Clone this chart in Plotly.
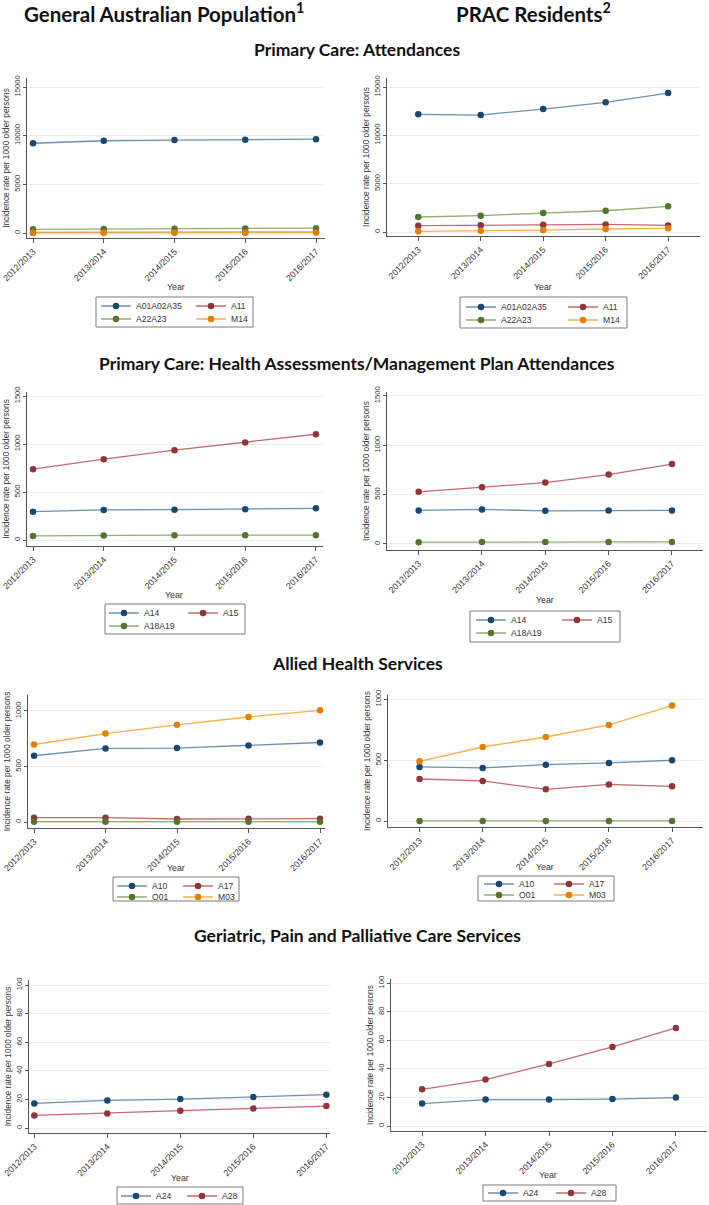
import plotly.graph_objects as go

# ---------------- data ----------------
years = ["2012/2013", "2013/2014", "2014/2015", "2015/2016", "2016/2017"]

# Primary Care: Attendances
gen_A01A02A35 = [9220, 9480, 9550, 9590, 9640]
gen_A11 = [60, 65, 70, 75, 80]
gen_A22A23 = [380, 400, 430, 460, 500]
gen_M14 = [20, 25, 30, 35, 40]
prac_A01A02A35 = [12170, 12100, 12720, 13410, 14370]
prac_A11 = [650, 700, 750, 780, 680]
prac_A22A23 = [1550, 1690, 1960, 2200, 2660]
prac_M14 = [70, 120, 200, 310, 380]

# Primary Care: Health Assessments / Management Plan Attendances
gen_A14 = [295, 313, 316, 320, 330]
gen_A15 = [738, 842, 936, 1016, 1102]
gen_A18A19 = [42, 48, 50, 50, 50]
prac_A14 = [340, 350, 336, 340, 340]
prac_A15 = [528, 575, 622, 703, 810]
prac_A18A19 = [18, 19, 20, 20, 21]

# Allied Health Services
gen_A10 = [597, 663, 666, 690, 716]
gen_A17 = [39, 39, 27, 30, 30]
gen_O01 = [3, 3, 3, 3, 3]
gen_M03 = [698, 797, 875, 946, 1006]
prac_A10 = [444, 436, 463, 477, 499]
prac_A17 = [345, 329, 260, 301, 285]
prac_O01 = [1, 1, 1, 1, 1]
prac_M03 = [490, 608, 690, 789, 948]

# Geriatric, Pain and Palliative Care Services
gen_A24 = [17.2, 19.3, 20.2, 21.6, 23.3]
gen_A28 = [8.8, 10.2, 12.1, 13.7, 15.3]
prac_A24 = [15.7, 18.5, 18.5, 18.9, 19.9]
prac_A28 = [25.7, 32.5, 43.5, 55.4, 68.7]

header_left = "General Australian Population<sup>1</sup>"
header_right = "PRAC Residents<sup>2</sup>"
section_titles = ["Primary Care: Attendances",
                  "Primary Care: Health Assessments/Management Plan Attendances",
                  "Allied Health Services",
                  "Geriatric, Pain and Palliative Care Services"]
y_title = "Incidence rate per 1000 older persons"
x_title = "Year"

# ---------------- styling ----------------
W, H = 709, 1205
MARKER = {"navy": "#1a476f", "maroon": "#90353b", "green": "#55752f", "orange": "#e37e00"}
LINE = {"navy": "#6f8fb0", "maroon": "#c46a70", "green": "#93ad70", "orange": "#f5b04a"}
AX = "#555555"
GRID = "#e6eff1"
SANS = "Liberation Sans, Arial, sans-serif"
TITLE_FONT = "Lato, Open Sans, sans-serif"


def fx(p):
    return p / W


def fy(p):
    return 1 - p / H


# panel geometry (pixels) and series assignment
panels = [
    dict(box=(27, 325, 78, 238), xr=[-0.085, 4.127], yr=[-514, 15925], yt=[0, 5000, 10000, 15000],
         rows=[[("A01A02A35", gen_A01A02A35, "navy"), ("A11", gen_A11, "maroon")],
               [("A22A23", gen_A22A23, "green"), ("M14", gen_M14, "orange")]],
         leg_left=96, ew=50, leg_rows=[306, 319], leg_box=(96, 253, 297, 327), year=(176, 287)),
    dict(box=(387, 700, 78, 236), xr=[-0.5, 4.51], yr=[-414, 15931], yt=[0, 5000, 10000, 15000],
         rows=[[("A01A02A35", prac_A01A02A35, "navy"), ("A11", prac_A11, "maroon")],
               [("A22A23", prac_A22A23, "green"), ("M14", prac_M14, "orange")]],
         leg_left=461, ew=57, leg_rows=[307, 320], leg_box=(460, 627, 297, 328), year=(543, 287)),
    dict(box=(27, 323, 392, 546), xr=[-0.085, 4.1], yr=[-62.5, 1542], yt=[0, 500, 1000, 1500],
         rows=[[("A14", gen_A14, "navy"), ("A15", gen_A15, "maroon")],
               [("A18A19", gen_A18A19, "green")]],
         leg_left=104, ew=34, leg_rows=[613, 626], leg_box=(105, 245, 604, 634), year=(174, 595)),
    dict(box=(387, 703, 392, 550), xr=[-0.5, 4.49], yr=[-61, 1540], yt=[0, 500, 1000, 1500],
         rows=[[("A14", prac_A14, "navy"), ("A15", prac_A15, "maroon")],
               [("A18A19", prac_A18A19, "green")]],
         leg_left=471, ew=41, leg_rows=[620, 633], leg_box=(470, 620, 611, 642), year=(545, 600)),
    dict(box=(28, 325, 695, 828), xr=[-0.084, 4.07], yr=[-54, 1144], yt=[0, 500, 1000],
         rows=[[("A10", gen_A10, "navy"), ("A17", gen_A17, "maroon")],
               [("O01", gen_O01, "green"), ("M03", gen_M03, "orange")]],
         leg_left=112, ew=21, leg_rows=[886, 897], leg_box=(113, 239, 877, 901), year=(176, 868)),
    dict(box=(388, 703, 695, 827), xr=[-0.5, 4.49], yr=[-49, 1035], yt=[0, 500, 1000],
         rows=[[("A10", prac_A10, "navy"), ("A17", prac_A17, "maroon")],
               [("O01", prac_O01, "green"), ("M03", prac_M03, "orange")]],
         leg_left=479, ew=25, leg_rows=[884, 895], leg_box=(478, 614, 876, 901), year=(545, 867)),
    dict(box=(29, 330, 980, 1133), xr=[-0.073, 4.05], yr=[-3.5, 103.5], yt=[0, 20, 40, 60, 80, 100],
         rows=[[("A24", gen_A24, "navy"), ("A28", gen_A28, "maroon")]],
         leg_left=116, ew=21, leg_rows=[1196], leg_box=(117, 243, 1187, 1204), year=(180, 1178)),
    dict(box=(391, 707, 979, 1131), xr=[-0.49, 4.49], yr=[-3.5, 103], yt=[0, 20, 40, 60, 80, 100],
         rows=[[("A24", prac_A24, "navy"), ("A28", prac_A28, "maroon")]],
         leg_left=483, ew=23, leg_rows=[1193], leg_box=(483, 616, 1185, 1201), year=(548, 1175)),
]

fig = go.Figure()
layout = dict(width=W, height=H, margin=dict(l=0, r=0, t=0, b=0, autoexpand=False),
              paper_bgcolor="white", plot_bgcolor="white", showlegend=True)
shapes = []
annotations = []
legend_counter = 0

for i, p in enumerate(panels, start=1):
    x0, x1, top, bot = p["box"]
    xa = "x" if i == 1 else f"x{i}"
    ya = "y" if i == 1 else f"y{i}"
    xkey = "xaxis" if i == 1 else f"xaxis{i}"
    ykey = "yaxis" if i == 1 else f"yaxis{i}"
    layout[xkey] = dict(domain=[fx(x0), fx(x1)], anchor=ya, type="category", range=p["xr"],
                        showline=True, linecolor=AX, linewidth=1, ticks="outside", ticklen=4,
                        tickcolor=AX, tickangle=-45, showgrid=False, zeroline=False,
                        automargin=False,
                        tickfont=dict(family=SANS, size=8.8, color="#333"), fixedrange=True)
    layout[ykey] = dict(domain=[fy(bot), fy(top)], anchor=xa, range=p["yr"], tickvals=p["yt"],
                        tickformat="d", automargin=False,
                        showline=True, linecolor=AX, linewidth=1, ticks="outside", ticklen=3,
                        tickcolor=AX, tickangle=-90, showgrid=True, gridcolor=GRID, gridwidth=1,
                        zeroline=False, tickfont=dict(family=SANS, size=7.6, color="#333"),
                        title=dict(text=y_title, font=dict(family=SANS, size=8.3, color="#333"),
                                   standoff=2), fixedrange=True)
    annotations.append(dict(text=x_title, x=fx(p["year"][0]), y=fy(p["year"][1]), xref="paper",
                            yref="paper", showarrow=False, xanchor="center", yanchor="middle",
                            font=dict(family=SANS, size=8.8, color="#333")))
    for r, row in enumerate(p["rows"]):
        legend_counter += 1
        lname = "legend" if legend_counter == 1 else f"legend{legend_counter}"
        layout[lname] = dict(x=fx(p["leg_left"]), xanchor="left", y=fy(p["leg_rows"][r]),
                             yanchor="middle", orientation="h", entrywidth=p["ew"],
                             entrywidthmode="pixels", bgcolor="rgba(0,0,0,0)", borderwidth=0,
                             font=dict(family=SANS, size=8.6, color="#333"), itemclick=False,
                             itemdoubleclick=False)
        for name, vals, ck in row:
            fig.add_trace(go.Scatter(x=years, y=vals, name=name, mode="lines+markers",
                                     xaxis=xa, yaxis=ya, legend=lname,
                                     line=dict(color=LINE[ck], width=1.3),
                                     marker=dict(color=MARKER[ck], size=6.5)))
    bx0, bx1, by0, by1 = p["leg_box"]
    shapes.append(dict(type="rect", xref="paper", yref="paper", x0=fx(bx0), x1=fx(bx1),
                       y0=fy(by1), y1=fy(by0), line=dict(color="#7a7a7a", width=1)))

# header titles
for txt, xc in [(header_left, 164), (header_right, 533)]:
    annotations.append(dict(text=f"<b>{txt}</b>", x=fx(xc), y=fy(13), xref="paper", yref="paper",
                            showarrow=False, xanchor="center", yanchor="middle",
                            font=dict(family=TITLE_FONT, size=20.5, color="#111")))
for t, yc in zip(section_titles, [50, 363, 663, 935]):
    annotations.append(dict(text=f"<b>{t}</b>", x=fx(357), y=fy(yc), xref="paper", yref="paper",
                            showarrow=False, xanchor="center", yanchor="middle",
                            font=dict(family=TITLE_FONT, size=17.5, color="#111")))

layout["shapes"] = shapes
layout["annotations"] = annotations
fig.update_layout(**layout)
fig.write_html("out.html", config={"displayModeBar": False, "staticPlot": False},
               post_script="document.body.style.margin='0';document.body.style.overflow='hidden';")
